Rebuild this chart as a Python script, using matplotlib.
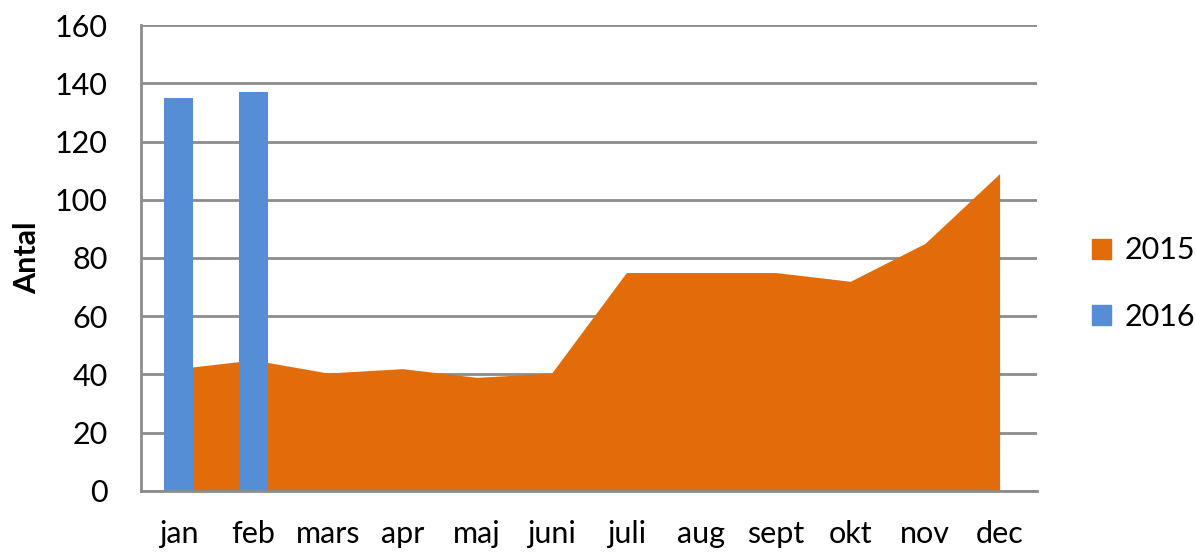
import numpy as np
import matplotlib.pyplot as plt
from matplotlib.patches import Patch

plt.rcParams['font.family'] = ['Lato', 'DejaVu Sans']

months = ['jan', 'feb', 'mars', 'apr', 'maj', 'juni', 'juli', 'aug', 'sept', 'okt', 'nov', 'dec']
antal_2015 = [42, 45, 40.5, 42, 39, 40.5, 75, 75, 75, 72, 85, 109]
antal_2016 = [135, 137]

c2015 = '#E36C0A'
c2016 = '#558ED5'
grid_c = '#8C8C8C'

fig = plt.figure(figsize=(11.96, 5.56), dpi=100)
ax = fig.add_axes([0.118, 0.117, 0.749, 0.838])

x = np.arange(len(months))
ax.fill_between(x, antal_2015, 0, color=c2015, linewidth=0, zorder=3)
ax.bar(x[:len(antal_2016)], antal_2016, width=0.39, color=c2016, zorder=4)

ax.set_xlim(-0.5, len(months) - 0.5)
ax.set_ylim(0, 160)
ax.set_yticks(np.arange(0, 161, 20))
ax.set_xticks(x)
ax.set_xticklabels(months)
ax.yaxis.grid(True, color=grid_c, linewidth=2, zorder=1)
ax.set_axisbelow(True)

for s in ['top', 'right']:
    ax.spines[s].set_visible(False)
for s in ['left', 'bottom']:
    ax.spines[s].set_color(grid_c)
    ax.spines[s].set_linewidth(2)
    ax.spines[s].set_zorder(5)

ax.tick_params(axis='both', length=0, labelsize=22)
ax.tick_params(axis='y', pad=24)
ax.tick_params(axis='x', pad=21)
ax.set_ylabel('Antal', fontsize=22, fontweight='bold', labelpad=10)

handles = [Patch(color=c2015, label='2015'), Patch(color=c2016, label='2016')]
fig.legend(handles=handles, loc='center left', bbox_to_anchor=(0.913, 0.49),
           frameon=False, fontsize=22, handlelength=0.62, handleheight=0.62,
           handletextpad=0.45, labelspacing=1.25, borderpad=0, borderaxespad=0)

fig.savefig('out.png', dpi=100)
